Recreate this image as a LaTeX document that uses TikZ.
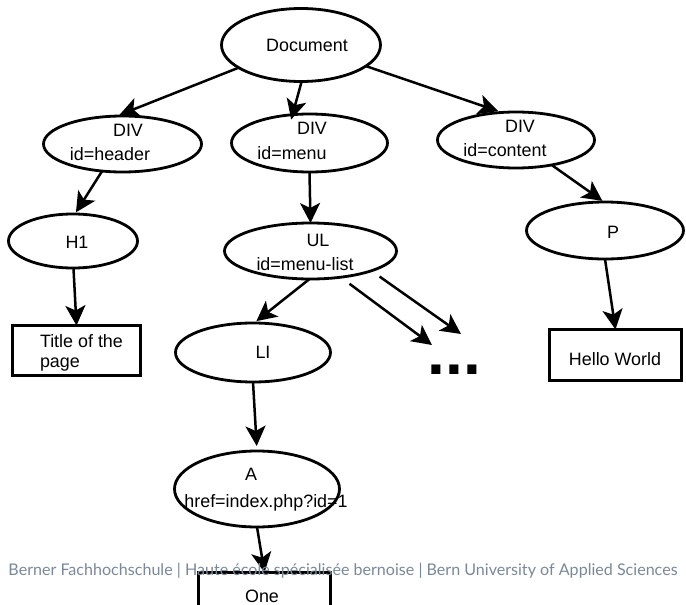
\documentclass[tikz,border=0pt]{standalone}
\usepackage{fontspec}
\setmainfont{Liberation Sans}
\newfontfamily\footfont{Lato}
\newfontfamily\dotfont{Liberation Sans}
\usetikzlibrary{arrows.meta,shapes.geometric}
\definecolor{footgray}{RGB}{122,137,153}
\tikzset{
  ell/.style={draw, ellipse, line width=2.8pt, inner sep=0pt, outer sep=0pt},
  box/.style={draw, rectangle, line width=2.8pt, inner sep=0pt, outer sep=0pt},
  lbl/.style={inner sep=0pt, outer sep=0pt, font=\fontsize{17.9}{20}\selectfont},
  arr/.style={line width=2.5pt, -{Stealth[length=20pt,width=20pt,inset=5pt]}},
}
\begin{document}
\begin{tikzpicture}[x=1pt,y=1pt]
\path[clip] (0,0) rectangle (686,-605);
\fill[white] (0,0) rectangle (686,-605);

% shapes
\node[ell, minimum width=159pt, minimum height=73pt] (doc) at (301,-45) {};
\node[ell, minimum width=158pt, minimum height=56pt] (hdr) at (122.5,-144) {};
\node[ell, minimum width=156pt, minimum height=58pt] (menu) at (309.5,-143) {};
\node[ell, minimum width=157pt, minimum height=56pt] (content) at (516,-140) {};
\node[ell, minimum width=129pt, minimum height=54pt] (h1) at (73,-241) {};
\node[ell, minimum width=172pt, minimum height=56pt] (ul) at (310.5,-251) {};
\node[ell, minimum width=157pt, minimum height=57pt] (p) at (605,-230.5) {};
\node[ell, minimum width=155pt, minimum height=59pt] (li) at (253,-352.5) {};
\node[ell, minimum width=165pt, minimum height=76pt] (a) at (257,-489) {};
\node[box, minimum width=128pt, minimum height=50pt] (title) at (76.5,-350.5) {};
\node[box, minimum width=132pt, minimum height=51pt] (hello) at (615.5,-355) {};
\node[box, minimum width=132pt, minimum height=50pt] (one) at (264.5,-597.5) {};

% labels
\node[lbl] (tdoc) at (307,-45) {Document};
\node[lbl] (thdr1) at (128,-130) {DIV};
\node[lbl] (thdr2) at (110,-154) {id=header};
\node[lbl] (tmenu1) at (312,-128) {DIV};
\node[lbl] (tmenu2) at (292,-153) {id=menu};
\node[lbl] (tcont1) at (520,-126) {DIV};
\node[lbl] (tcont2) at (505,-150) {id=content};
\node[lbl] (th1) at (77,-242) {H1};
\node[lbl] (tul1) at (318,-240) {UL};
\node[lbl] (tul2) at (305,-264) {id=menu-list};
\node[lbl] (tp) at (613,-232) {P};
\node[lbl] (tli) at (263,-352) {LI};
\node[lbl, anchor=west] (ttitle1) at (40,-341) {Title of the};
\node[lbl, anchor=west] (ttitle2) at (40,-365) {page};
\node[lbl] (thello) at (615,-359) {Hello World};
\node[lbl] (ta1) at (251,-474) {A};
\node[lbl] (ta2) at (266,-503) {href=index.php?id=1};
\node[lbl] (tone) at (262,-596) {One};
\node[inner sep=0pt, outer sep=0pt, anchor=base west, font=\dotfont\bfseries\fontsize{64}{64}\selectfont] (dots) at (427.5,-374) {...};

% free ends of the "..." arrows
\coordinate (d1) at (432,-345);
\coordinate (d2) at (461,-334);

% connectors
\draw[arr, shorten >=3pt] (doc.200) -- (hdr.102);
\draw[arr, shorten >=-5pt] (doc.271) -- (menu.121);
\draw[arr, shorten >=4pt] (doc.342) -- (content.117);
\draw[arr, shorten >=2pt] (hdr.233) -- (h1.86);
\draw[arr] (h1.271) -- (title.north);
\draw[arr] (menu.south) -- (ul.north);
\draw[arr, shorten >=2pt] (content.325) -- (p.92);
\draw[arr] (p.south) -- (hello.north);
\draw[arr, shorten >=3pt] (ul.268) -- (li.88);
\draw[arr, shorten <=11pt] (ul.319) -- (d1);
\draw[arr, shorten <=10pt] (ul.342) -- (d2);
\draw[arr, shorten >=5pt] (li.south) -- (a.north);
\draw[arr] (a.south) -- (one.north);

% footer
\node[inner sep=0pt, outer sep=0pt, text=footgray] (foot) at (343,-571)
  {\resizebox{669pt}{!}{\footfont Berner Fachhochschule | Haute école spécialisée bernoise | Bern University of Applied Sciences}};
\end{tikzpicture}
\end{document}
